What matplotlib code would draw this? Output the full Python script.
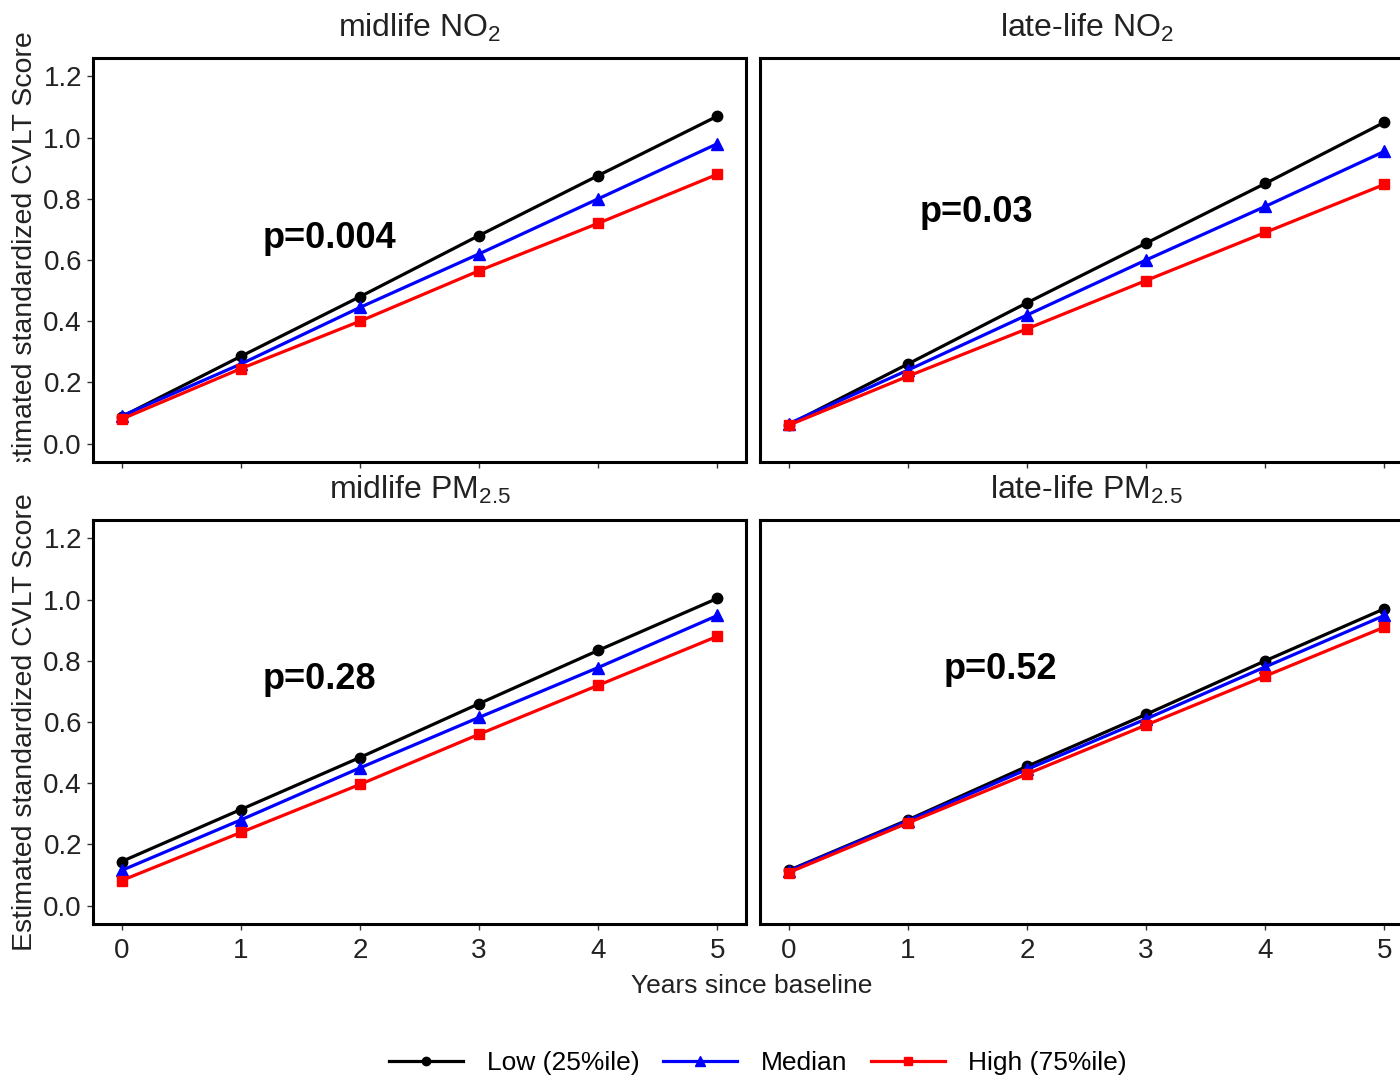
import matplotlib
matplotlib.use('Agg')
import matplotlib.pyplot as plt
from matplotlib.transforms import Bbox, TransformedBbox

plt.rcParams['font.family'] = ['Liberation Sans', 'DejaVu Sans']
plt.rcParams['mathtext.default'] = 'regular'

# data
years = [0, 1, 2, 3, 4, 5]
panel_titles = ['midlife NO$_2$', 'late-life NO$_2$', 'midlife PM$_{2.5}$', 'late-life PM$_{2.5}$']
p_labels = ['p=0.004', 'p=0.03', 'p=0.28', 'p=0.52']
p_pos = [(1.745, 0.67), (1.58, 0.755), (1.66, 0.74), (1.78, 0.77)]

low = [
    [0.088, 0.285, 0.48, 0.68, 0.876, 1.07],
    [0.062, 0.26, 0.46, 0.655, 0.85, 1.05],
    [0.144, 0.314, 0.484, 0.66, 0.834, 1.004],
    [0.115, 0.28, 0.455, 0.625, 0.80, 0.97],
]
median = [
    [0.09, 0.26, 0.445, 0.62, 0.80, 0.98],
    [0.065, 0.24, 0.42, 0.60, 0.775, 0.955],
    [0.115, 0.28, 0.45, 0.615, 0.778, 0.948],
    [0.113, 0.277, 0.445, 0.61, 0.78, 0.948],
]
high = [
    [0.08, 0.245, 0.40, 0.565, 0.72, 0.88],
    [0.06, 0.22, 0.375, 0.533, 0.69, 0.847],
    [0.082, 0.239, 0.396, 0.56, 0.72, 0.88],
    [0.108, 0.27, 0.43, 0.59, 0.75, 0.91],
]
series_names = ['Low (25%ile)', 'Median', 'High (75%ile)']
colors = ['black', '#0000ff', '#ff0000']
markers = ['o', '^', 's']
msizes = [7.5, 9, 7.5]

W, H = 1400, 1079
fig = plt.figure(figsize=(W / 100, H / 100), dpi=100)

# panel boxes in pixels (left, top, right, bottom)
boxes = [(93, 58, 746, 462), (760, 58, 1413, 462),
         (93, 520, 746, 924), (760, 520, 1413, 924)]

axes = []
for i, (l, t, r, b) in enumerate(boxes):
    ax = fig.add_axes([l / W, 1 - b / H, (r - l) / W, (b - t) / H])
    axes.append(ax)
    for k, data in enumerate([low[i], median[i], high[i]]):
        ax.plot(years, data, color=colors[k], lw=2.3, marker=markers[k],
                ms=msizes[k], label=series_names[k])
    ax.set_xlim(-0.24, 5.24)
    ax.set_ylim(-0.06, 1.26)
    ax.set_xticks(years)
    ax.set_yticks([0.0, 0.2, 0.4, 0.6, 0.8, 1.0, 1.2])
    ax.set_yticklabels(['0.0', '0.2', '0.4', '0.6', '0.8', '1.0', '1.2'])
    for s in ax.spines.values():
        s.set_linewidth(2.2)
    ax.tick_params(direction='out', length=4, width=1, color='#333333',
                   labelsize=20, labelcolor='#222222', pad=4)
    ax.tick_params(axis='x', pad=6)
    if i < 2:
        ax.tick_params(axis='x', labelbottom=False)
    if i % 2 == 1:
        ax.tick_params(axis='y', left=False, labelleft=False)
    ax.set_title(panel_titles[i], fontsize=23, color='#222222', pad=15)
    ax.text(p_pos[i][0], p_pos[i][1], p_labels[i], ha='center', va='center',
            fontsize=26, fontweight='bold')

# y labels, the upper one cut off at the panel bottom as in the original
for t, b in [(58, 462), (520, 924)]:
    lab = fig.text(25 / W, 1 - (t + b) / 2 / H, 'Estimated standardized CVLT Score',
                   rotation=90, ha='center', va='center', fontsize=20.5, color='#222222')
    if t == 58:
        lab.set_clip_on(True)
        lab.set_clip_box(TransformedBbox(Bbox.from_extents(0, 1 - 462 / H, 1, 1),
                                         fig.transFigure))

fig.text(752 / W, 1 - 986 / H, 'Years since baseline', ha='center', va='center',
         fontsize=19, color='#222222')

handles, labels = axes[0].get_legend_handles_labels()
fig.legend(handles, labels, loc='center', bbox_to_anchor=(758 / W, 1 - 1063 / H),
           ncol=3, frameon=False, fontsize=19, handlelength=2.8, handletextpad=0.9,
           columnspacing=0.9, markerscale=0.8)

fig.savefig('out.png', dpi=100)
